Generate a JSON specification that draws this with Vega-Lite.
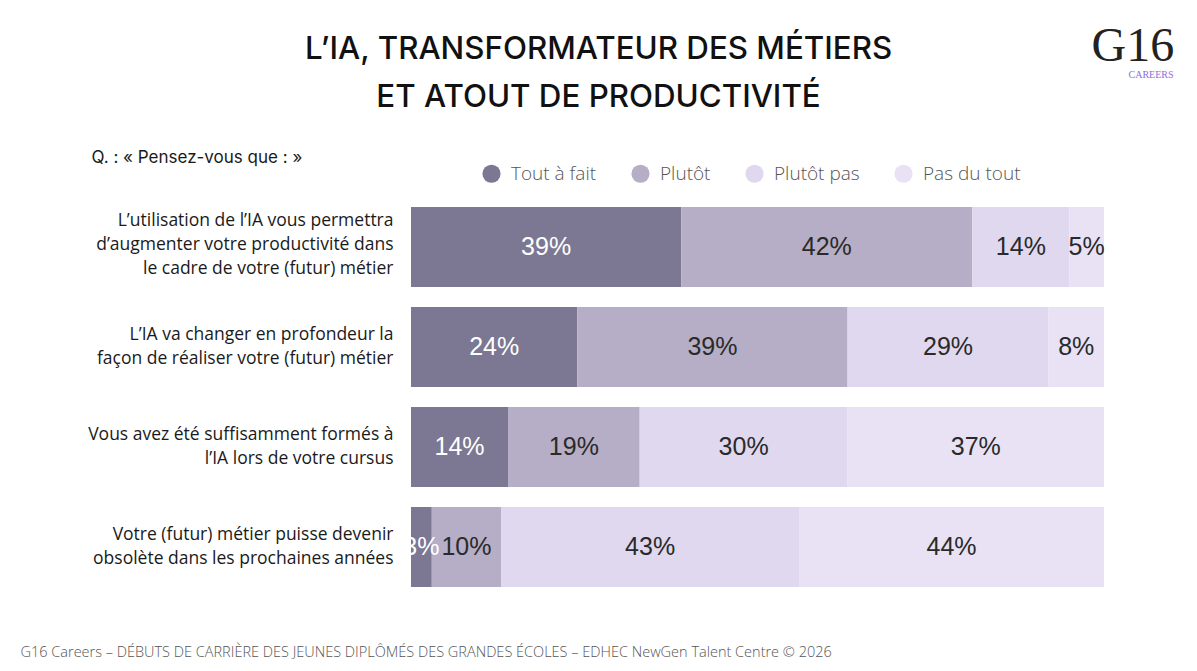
{
  "$schema": "https://vega.github.io/schema/vega-lite/v6.json",
  "width": 693,
  "height": 400,
  "autosize": {"type": "none"},
  "padding": {"left": 411, "top": 197, "right": 93, "bottom": 74},
  "background": "white",
  "config": {"view": {"stroke": null}},
  "title": {
    "text": ["L’IA, TRANSFORMATEUR DES MÉTIERS", "ET ATOUT DE PRODUCTIVITÉ"],
    "anchor": "middle",
    "frame": "group",
    "dx": -159,
    "dy": 95,
    "font": "Inter",
    "fontSize": 31.3,
    "fontWeight": 500,
    "color": "#111111",
    "lineHeight": 48,
    "baseline": "top"
  },
  "data": {
    "values": [
      {"question": "L’utilisation de l’IA vous permettra|d’augmenter votre productivité dans|le cadre de votre (futur) métier", "cat": "Tout à fait", "order": 1, "value": 39},
      {"question": "L’utilisation de l’IA vous permettra|d’augmenter votre productivité dans|le cadre de votre (futur) métier", "cat": "Plutôt", "order": 2, "value": 42},
      {"question": "L’utilisation de l’IA vous permettra|d’augmenter votre productivité dans|le cadre de votre (futur) métier", "cat": "Plutôt pas", "order": 3, "value": 14},
      {"question": "L’utilisation de l’IA vous permettra|d’augmenter votre productivité dans|le cadre de votre (futur) métier", "cat": "Pas du tout", "order": 4, "value": 5},
      {"question": "L’IA va changer en profondeur la|façon de réaliser votre (futur) métier", "cat": "Tout à fait", "order": 1, "value": 24},
      {"question": "L’IA va changer en profondeur la|façon de réaliser votre (futur) métier", "cat": "Plutôt", "order": 2, "value": 39},
      {"question": "L’IA va changer en profondeur la|façon de réaliser votre (futur) métier", "cat": "Plutôt pas", "order": 3, "value": 29},
      {"question": "L’IA va changer en profondeur la|façon de réaliser votre (futur) métier", "cat": "Pas du tout", "order": 4, "value": 8},
      {"question": "Vous avez été suffisamment formés à|l’IA lors de votre cursus", "cat": "Tout à fait", "order": 1, "value": 14},
      {"question": "Vous avez été suffisamment formés à|l’IA lors de votre cursus", "cat": "Plutôt", "order": 2, "value": 19},
      {"question": "Vous avez été suffisamment formés à|l’IA lors de votre cursus", "cat": "Plutôt pas", "order": 3, "value": 30},
      {"question": "Vous avez été suffisamment formés à|l’IA lors de votre cursus", "cat": "Pas du tout", "order": 4, "value": 37},
      {"question": "Votre (futur) métier puisse devenir|obsolète dans les prochaines années", "cat": "Tout à fait", "order": 1, "value": 3},
      {"question": "Votre (futur) métier puisse devenir|obsolète dans les prochaines années", "cat": "Plutôt", "order": 2, "value": 10},
      {"question": "Votre (futur) métier puisse devenir|obsolète dans les prochaines années", "cat": "Plutôt pas", "order": 3, "value": 43},
      {"question": "Votre (futur) métier puisse devenir|obsolète dans les prochaines années", "cat": "Pas du tout", "order": 4, "value": 44}
    ]
  },
  "transform": [
    {"stack": "value", "groupby": ["question"], "sort": [{"field": "order"}], "as": ["v0", "v1"]},
    {"calculate": "(datum.v0 + datum.v1) / 2", "as": "mid"},
    {"calculate": "datum.value + '%'", "as": "label"}
  ],
  "resolve": {"axis": {"x": "independent", "y": "independent"}},
  "layer": [
    {
      "mark": {"type": "bar"},
      "encoding": {
        "x": {
          "field": "v0", "type": "quantitative",
          "scale": {"domain": [0, 100], "nice": false},
          "axis": {
            "orient": "bottom", "labels": false, "ticks": false, "domain": false, "grid": false,
            "title": "G16 Careers – DÉBUTS DE CARRIÈRE DES JEUNES DIPLÔMÉS DES GRANDES ÉCOLES – EDHEC NewGen Talent Centre © 2026",
            "titleX": -391, "titleY": 59, "titleAnchor": "start", "titleAlign": "left", "titleBaseline": "alphabetic",
            "titleFont": "Open Sans", "titleFontSize": 14.5, "titleFontWeight": 300, "titleColor": "#555555", "titleLimit": 1000
          }
        },
        "x2": {"field": "v1"},
        "y": {
          "field": "question", "type": "nominal",
          "sort": ["L’utilisation de l’IA vous permettra|d’augmenter votre productivité dans|le cadre de votre (futur) métier", "L’IA va changer en profondeur la|façon de réaliser votre (futur) métier", "Vous avez été suffisamment formés à|l’IA lors de votre cursus", "Votre (futur) métier puisse devenir|obsolète dans les prochaines années"],
          "scale": {"paddingInner": 0.2, "paddingOuter": 0.1},
          "axis": {
            "orient": "left", "ticks": false, "domain": false, "grid": false,
            "labelExpr": "split(datum.label, '|')",
            "labelFont": "Open Sans", "labelFontSize": 17.5, "labelFontWeight": 400, "labelColor": "#1a1a1a",
            "labelLineHeight": 24, "labelPadding": 18, "labelLimit": 400, "labelAlign": "right", "labelBaseline": "middle",
            "labelOffset": {"condition": {"test": "length(split(datum.value, '|')) == 3", "value": -26}, "value": -12},
            "title": "Q. : « Pensez-vous que : »",
            "titleAngle": 0, "titleX": -320, "titleY": -35, "titleAlign": "left", "titleAnchor": "start", "titleBaseline": "alphabetic",
            "titleFont": "Inter", "titleFontSize": 17, "titleFontWeight": 400, "titleColor": "#1a1a1a"
          }
        },
        "color": {
          "field": "cat", "type": "nominal",
          "sort": ["Tout à fait", "Plutôt", "Plutôt pas", "Pas du tout"],
          "scale": {"domain": ["Tout à fait", "Plutôt", "Plutôt pas", "Pas du tout"], "range": ["#7c7893", "#b6aec6", "#e0d8ee", "#e8e2f4"]},
          "legend": {
            "orient": "none", "legendX": 71, "legendY": -33, "direction": "horizontal", "columns": 4,
            "title": null, "symbolType": "circle", "symbolSize": 330, "symbolStrokeWidth": 0,
            "labelFont": "Open Sans", "labelFontSize": 19, "labelFontWeight": 300, "labelColor": "#555555",
            "columnPadding": 34, "labelOffset": 10, "padding": 0
          }
        }
      }
    },
    {
      "mark": {"type": "text", "font": "Liberation Sans", "fontSize": 25, "align": "center", "baseline": "middle"},
      "encoding": {
        "x": {
          "field": "mid", "type": "quantitative",
          "axis": {
            "orient": "top", "labels": false, "ticks": false, "domain": false, "grid": false,
            "title": "G16", "titleX": 680, "titleY": -137, "titleAnchor": "start", "titleAlign": "left", "titleBaseline": "alphabetic",
            "titleFont": "Liberation Serif", "titleFontSize": 48, "titleFontWeight": "normal", "titleColor": "#222222"
          }
        },
        "y": {
          "field": "question", "type": "nominal",
          "sort": ["L’utilisation de l’IA vous permettra|d’augmenter votre productivité dans|le cadre de votre (futur) métier", "L’IA va changer en profondeur la|façon de réaliser votre (futur) métier", "Vous avez été suffisamment formés à|l’IA lors de votre cursus", "Votre (futur) métier puisse devenir|obsolète dans les prochaines années"],
          "axis": {
            "orient": "right", "labels": false, "ticks": false, "domain": false, "grid": false,
            "title": "CAREERS", "titleAngle": 0, "titleX": 24, "titleY": -120, "titleAnchor": "start", "titleAlign": "left", "titleBaseline": "alphabetic",
            "titleFont": "Liberation Serif", "titleFontSize": 10, "titleFontWeight": "normal", "titleColor": "#8a6fe0"
          }
        },
        "text": {"field": "label"},
        "color": {"condition": {"test": "datum.cat === 'Tout à fait'", "value": "#ffffff"}, "value": "#2a2a2a"}
      }
    }
  ]
}
